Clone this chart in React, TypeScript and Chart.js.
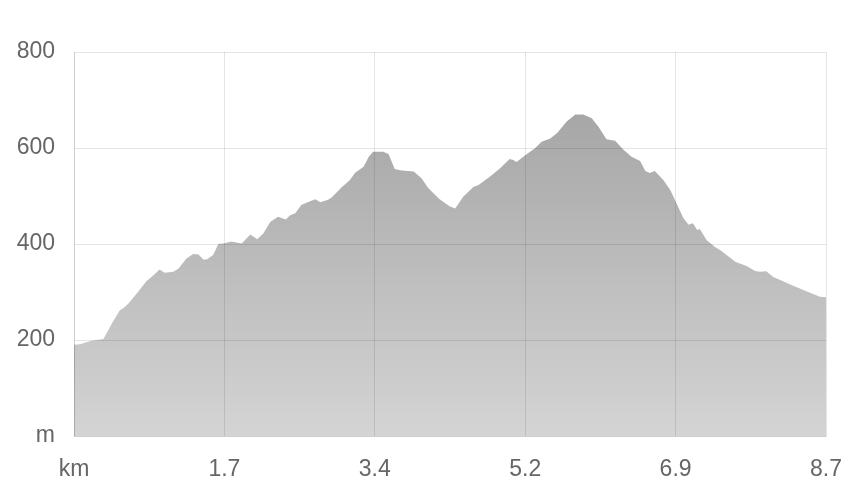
import React, { useEffect, useRef } from "react";
import { Chart, registerables } from "chart.js";

Chart.register(...registerables);

const distanceKm: number[] = [
  0.0, 0.07, 0.19, 0.34, 0.38, 0.44, 0.53, 0.57, 0.63, 0.73,
  0.84, 0.9, 0.99, 1.05, 1.15, 1.21, 1.3, 1.38, 1.44, 1.5,
  1.54, 1.61, 1.67, 1.73, 1.82, 1.94, 2.04, 2.12, 2.19, 2.27,
  2.36, 2.45, 2.5, 2.56, 2.63, 2.69, 2.79, 2.85, 2.94, 2.98,
  3.1, 3.19, 3.25, 3.35, 3.41, 3.46, 3.58, 3.64, 3.71, 3.79,
  3.93, 4.02, 4.1, 4.22, 4.27, 4.35, 4.41, 4.5, 4.62, 4.68,
  4.81, 4.93, 5.04, 5.08, 5.12, 5.22, 5.33, 5.41, 5.51, 5.59,
  5.7, 5.8, 5.89, 5.99, 6.07, 6.16, 6.26, 6.36, 6.45, 6.55,
  6.61, 6.66, 6.72, 6.82, 6.9, 6.97, 7.05, 7.11, 7.16, 7.21,
  7.24, 7.32, 7.42, 7.47, 7.55, 7.65, 7.78, 7.88, 7.94, 8.01,
  8.09, 8.21, 8.32, 8.48, 8.63, 8.7,
];

const elevationM: number[] = [
  190, 191, 198, 202, 215, 235, 262, 266, 276, 298,
  323, 332, 347, 340, 342, 349, 370, 379, 378, 367,
  368, 377, 400, 401, 405, 401, 420, 410, 422, 446,
  457, 451, 460, 464, 481, 486, 493, 487, 492, 497,
  519, 533, 548, 561, 582, 592, 592, 587, 556, 553,
  551, 537, 516, 495, 488, 478, 474, 498, 519, 523,
  540, 558, 577, 575, 571, 585, 599, 613, 620, 631,
  655, 670, 670, 662, 644, 618, 615, 596, 582, 573,
  552, 548, 552, 533, 512, 485, 454, 440, 443, 429,
  431, 408, 393, 388, 377, 363, 354, 344, 342, 343,
  331, 322, 313, 301, 290, 289,
];

const xTickValues: number[] = [0, 1.74, 3.48, 5.22, 6.96, 8.7];
const xTickLabels: string[] = ["km", "1.7", "3.4", "5.2", "6.9", "8.7"];
const yTickLabels: string[] = ["m", "200", "400", "600", "800"];

export default function App() {
  const canvasRef = useRef<HTMLCanvasElement | null>(null);

  useEffect(() => {
    if (!canvasRef.current) return;
    const tickFont = { family: "'Liberation Sans', Arial, sans-serif", size: 23 };
    const chart = new Chart(canvasRef.current, {
      type: "line",
      data: {
        datasets: [
          {
            data: distanceKm.map((x, i) => ({ x, y: elevationM[i] })),
            fill: "origin",
            borderWidth: 0,
            borderColor: "rgba(0,0,0,0)",
            pointRadius: 0,
            tension: 0,
            backgroundColor: (ctx: any) => {
              const area = ctx.chart.chartArea;
              if (!area) return "rgba(0,0,0,0.3)";
              const g = ctx.chart.ctx.createLinearGradient(0, area.top, 0, area.bottom);
              g.addColorStop(0, "rgba(0,0,0,0.38)");
              g.addColorStop(1, "rgba(0,0,0,0.17)");
              return g;
            },
          },
        ],
      },
      options: {
        animation: false,
        responsive: true,
        maintainAspectRatio: false,
        layout: { padding: { top: 52, right: 23, left: 0, bottom: 0 } },
        plugins: { legend: { display: false }, tooltip: { enabled: false } },
        scales: {
          x: {
            type: "linear",
            min: 0,
            max: 8.7,
            afterBuildTicks: (axis: any) => {
              axis.ticks = xTickValues.map((v) => ({ value: v }));
            },
            afterFit: (axis: any) => {
              axis.height = 58;
              axis.paddingLeft = 0;
              axis.paddingRight = 0;
            },
            grid: { color: "rgba(0,0,0,0.1)", drawTicks: false },
            border: { color: "rgba(0,0,0,0.1)" },
            ticks: {
              padding: 20,
              maxRotation: 0,
              autoSkip: false,
              color: "#666",
              font: tickFont,
              callback: (_v: any, i: number) => xTickLabels[i],
            },
          },
          y: {
            min: 0,
            max: 800,
            afterFit: (axis: any) => {
              axis.width = 74;
              axis.paddingTop = 0;
              axis.paddingBottom = 0;
            },
            grid: { color: "rgba(0,0,0,0.1)", drawTicks: false },
            border: { color: "rgba(0,0,0,0.1)" },
            ticks: {
              stepSize: 200,
              padding: 19,
              color: "#666",
              font: tickFont,
              callback: (_v: any, i: number) => yTickLabels[i],
            },
          },
        },
      },
    } as any);
    return () => chart.destroy();
  }, []);

  return (
    <div style={{ position: "fixed", left: 0, top: 0, width: 849, height: 494 }}>
      <canvas ref={canvasRef} />
    </div>
  );
}
